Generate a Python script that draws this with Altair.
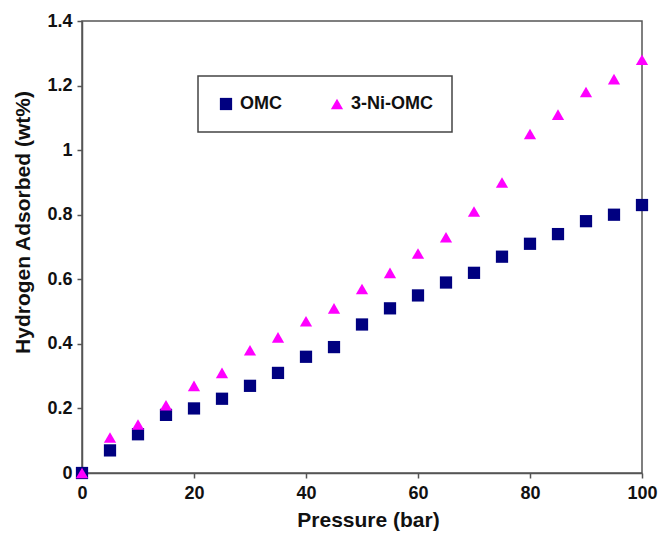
import altair as alt
import pandas as pd

pressure = [0, 5, 10, 15, 20, 25, 30, 35, 40, 45, 50, 55, 60, 65, 70, 75, 80, 85, 90, 95, 100]
omc = [0, 0.07, 0.12, 0.18, 0.20, 0.23, 0.27, 0.31, 0.36, 0.39, 0.46, 0.51, 0.55, 0.59, 0.62, 0.67, 0.71, 0.74, 0.78, 0.80, 0.83]
ni_omc = [0, 0.11, 0.15, 0.21, 0.27, 0.31, 0.38, 0.42, 0.47, 0.51, 0.57, 0.62, 0.68, 0.73, 0.81, 0.90, 1.05, 1.11, 1.18, 1.22, 1.28]
series_names = ["OMC", "3-Ni-OMC"]
x_ticks = [0, 20, 40, 60, 80, 100]
y_ticks = [0, 0.2, 0.4, 0.6, 0.8, 1.0, 1.2, 1.4]

rows = []
for p, v in zip(pressure, omc):
    rows.append({"Pressure": p, "Value": v, "Series": series_names[0]})
for p, v in zip(pressure, ni_omc):
    rows.append({"Pressure": p, "Value": v, "Series": series_names[1]})
df = pd.DataFrame(rows)

FONT = "Liberation Sans"
AXIS_COLOR = "#555555"

chart = alt.Chart(df).mark_point(filled=True, opacity=1, size=150).encode(
    x=alt.X("Pressure:Q",
            scale=alt.Scale(domain=[0, 100], nice=False),
            axis=alt.Axis(values=x_ticks, title="Pressure (bar)", format="d",
                          labelPadding=6, labelFlush=False, titleBaseline="alphabetic",
                          titleX=286, titleY=53)),
    y=alt.Y("Value:Q",
            scale=alt.Scale(domain=[0, 1.4], nice=False),
            axis=alt.Axis(values=y_ticks, title="Hydrogen Adsorbed (wt%)", format="~g",
                          labelPadding=5, labelFlush=False, titleBaseline="middle",
                          titleAlign="center", titleAngle=270, titleX=-59, titleY=201)),
    color=alt.Color("Series:N",
                    scale=alt.Scale(domain=series_names, range=["#000080", "#FF00FF"]),
                    legend=alt.Legend(title=None)),
    shape=alt.Shape("Series:N",
                    scale=alt.Scale(domain=series_names, range=["square", "triangle-up"]),
                    legend=alt.Legend(title=None)),
).properties(
    width=560,
    height=452,
    autosize=alt.AutoSizeParams(type="none"),
    padding={"left": 74, "top": 13, "right": 16, "bottom": 62},
).configure_view(
    stroke=AXIS_COLOR,
    strokeWidth=1.5,
).configure_axis(
    grid=False,
    domainColor=AXIS_COLOR,
    domainWidth=1.5,
    tickColor=AXIS_COLOR,
    tickWidth=1.5,
    tickSize=5,
    labelFont=FONT,
    labelFontSize=18,
    labelFontWeight="bold",
    labelColor="#111111",
    titleFont=FONT,
    titleFontSize=21,
    titleFontWeight="bold",
    titleColor="#111111",
).configure_legend(
    orient="none",
    legendX=116,
    legendY=55,
    direction="horizontal",
    padding=19,
    strokeColor="#444444",
    strokeWidth=1.5,
    fillColor="white",
    symbolSize=150,
    symbolStrokeWidth=0,
    labelFont=FONT,
    labelFontSize=18,
    labelFontWeight="bold",
    labelColor="#111111",
    labelOffset=5,
    columnPadding=46,
)

chart.save("out.html", embed_options={"renderer": "svg", "actions": False})
